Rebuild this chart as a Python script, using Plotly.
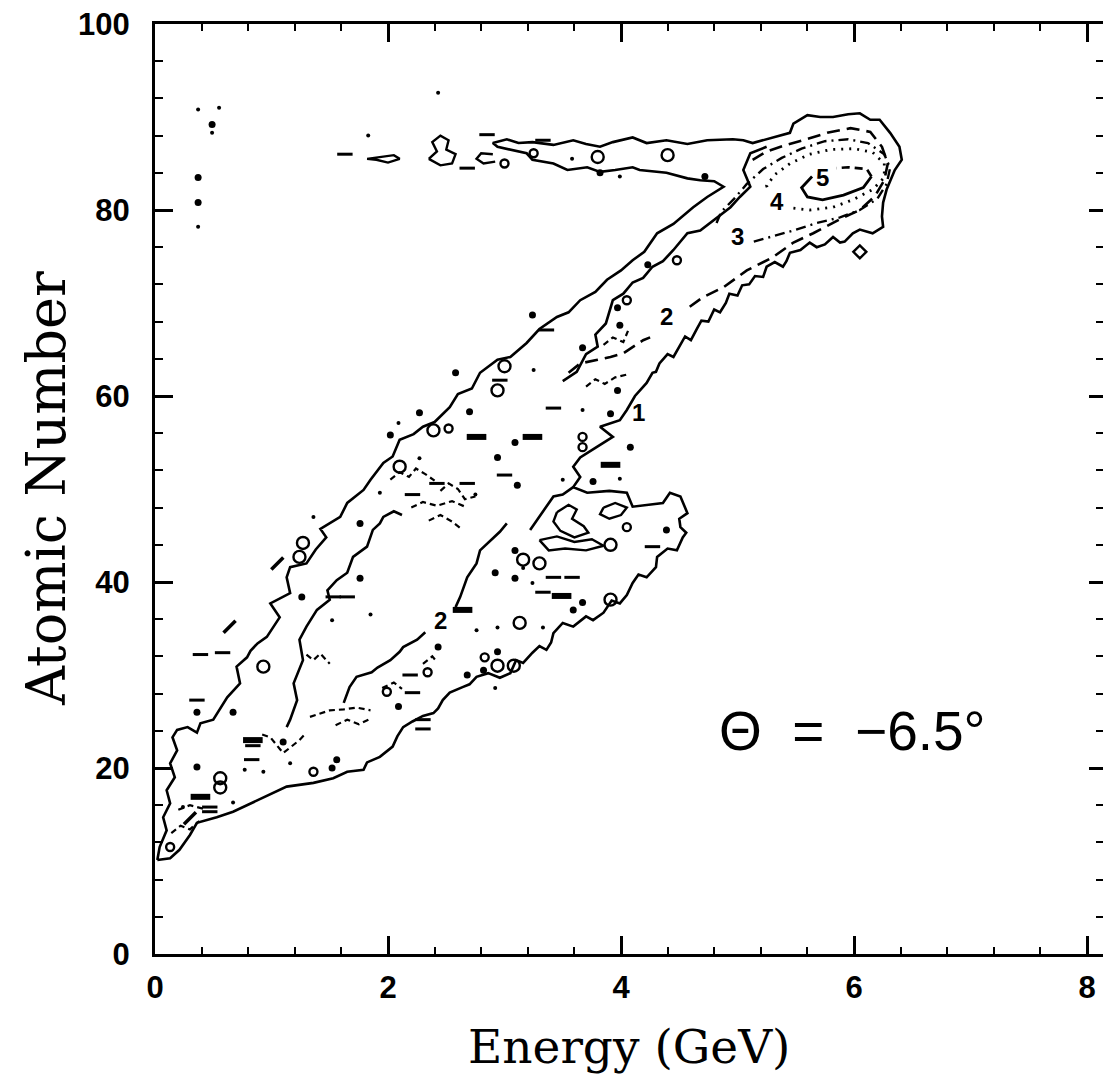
import plotly.graph_objects as go

# ---------------- data (Energy in GeV, Atomic Number Z) ----------------
OUTER = [(0.02,10.1),(0.04,11.5),(0.10,13.3),(0.07,14.7),(0.13,16.2),(0.10,17.6),(0.17,19.0),(0.13,20.5),(0.19,21.9),(0.15,23.3),(0.19,24.1),(0.28,24.4),(0.36,23.8),(0.39,24.8),(0.50,25.2),(0.55,26.2),(0.62,27.6),(0.73,29.1),(0.70,30.9),(0.79,31.9),(0.82,32.6),(0.88,33.4),(0.96,34.1),(1.07,36.2),(0.99,37.7),(1.16,38.8),(1.13,40.5),(1.16,41.6),(1.30,42.0),(1.38,43.5),(1.47,44.8),(1.42,45.7),(1.59,47.0),(1.65,48.5),(1.79,49.9),(1.85,51.0),(1.96,52.8),(2.04,53.5),(2.10,55.3),(2.22,55.9),(2.30,56.7),(2.40,57.2),(2.53,58.8),(2.60,60.2),(2.72,60.8),(2.79,62.5),(2.94,63.9),(3.05,64.2),(3.19,65.7),(3.30,67.2),(3.45,68.5),(3.55,69.0),(3.65,70.3),(3.78,71.2),(3.88,72.5),(4.00,73.5),(4.10,74.6),(4.20,75.5),(4.31,77.5),(4.45,78.5),(4.62,80.3),(4.74,81.4),(4.88,82.5),(4.80,83.1),(4.68,83.2),(4.57,83.4),(4.39,84.0),(4.16,84.3),(4.10,84.6),(3.95,84.3),(3.82,84.1),(3.71,84.6),(3.54,84.3),(3.42,85.0),(3.24,85.4),(3.19,86.1),(3.05,86.5),(2.94,86.8),(2.90,87.2),(3.02,87.6),(3.12,87.2),(3.24,87.3),(3.42,87.0),(3.59,87.5),(3.70,87.1),(3.82,86.8),(3.93,87.3),(4.10,87.8),(4.22,87.2),(4.39,87.5),(4.57,87.1),(4.74,87.5),(4.96,87.6),(5.05,87.5),(5.13,87.2),(5.30,87.8),(5.45,88.3),(5.48,89.3),(5.60,90.2),(5.71,90.0),(5.82,90.0),(5.95,90.3),(6.05,90.4),(6.14,89.7),(6.22,89.7),(6.31,88.3),(6.39,86.8),(6.41,85.4),(6.35,84.3),(6.28,82.2),(6.25,80.8),(6.24,79.3),(6.25,78.2),(6.16,77.5),(6.05,77.9),(5.99,77.5),(5.92,76.6),(5.88,76.5),(5.82,77.1),(5.75,76.3),(5.68,76.0),(5.62,76.5),(5.54,75.7),(5.45,75.4),(5.42,74.5),(5.39,73.9),(5.32,74.4),(5.25,73.9),(5.22,72.8),(5.15,72.9),(5.10,72.0),(5.04,71.9),(5.00,70.8),(4.93,71.0),(4.90,70.0),(4.85,69.0),(4.80,69.3),(4.75,68.0),(4.69,68.1),(4.65,67.2),(4.60,66.0),(4.55,66.4),(4.50,65.3),(4.45,64.2),(4.40,64.5),(4.33,63.5),(4.30,62.6),(4.27,62.5),(4.22,61.4),(4.12,60.0),(4.05,58.5),(3.99,57.4),(3.82,56.7),(3.93,55.6),(3.79,54.5),(3.65,53.4),(3.59,52.4),(3.65,51.3),(3.59,50.2),(3.71,49.6),(3.90,49.8),(4.05,49.6),(4.10,48.1),(4.25,48.3),(4.36,48.5),(4.42,49.6),(4.51,49.2),(4.57,47.4),(4.50,46.8),(4.51,45.9),(4.56,45.3),(4.53,44.8),(4.48,43.4),(4.40,43.6),(4.31,42.7),(4.30,41.6),(4.22,40.5),(4.15,40.8),(4.10,39.9),(4.05,38.6),(3.99,37.7),(3.92,38.0),(3.85,36.7),(3.76,35.9),(3.70,36.3),(3.59,35.2),(3.50,35.6),(3.42,34.5),(3.40,33.5),(3.36,32.7),(3.30,33.1),(3.24,32.4),(3.16,31.3),(3.10,31.6),(3.05,30.2),(2.96,29.7),(2.86,30.2),(2.76,29.8),(2.70,29.0),(2.64,28.7),(2.53,28.1),(2.47,27.3),(2.43,26.4),(2.39,25.9),(2.30,25.6),(2.21,25.0),(2.13,24.4),(2.08,23.4),(2.04,22.3),(1.93,21.2),(1.82,20.6),(1.79,19.8),(1.65,19.6),(1.53,18.9),(1.36,18.4),(1.13,18.0),(1.01,17.3),(0.79,16.0),(0.67,15.3),(0.53,14.7),(0.36,14.1),(0.30,12.8),(0.21,11.2),(0.13,10.3),(0.02,10.1)]

LINE_B1 = [(1.13,24.4),(1.16,25.2),(1.22,27.3),(1.19,29.1),(1.27,31.6),(1.24,33.8),(1.30,35.2),(1.39,37.0),(1.50,38.1),(1.48,39.1),(1.56,40.2),(1.65,41.0),(1.70,42.7),(1.82,43.8),(1.87,45.6),(1.93,46.3),(1.96,47.0),(2.05,47.6),(2.12,47.2)]
LINE_B2 = [(3.50,61.6),(3.62,62.6),(3.70,64.5),(3.80,65.3),(3.78,66.6),(3.87,67.8),(3.93,70.3),(4.02,71.0),(4.10,72.2),(4.19,72.7),(4.27,73.9),(4.36,74.5),(4.45,75.7),(4.57,77.5),(4.68,77.8),(4.79,78.9),(4.94,80.3),(5.02,81.4),(5.11,82.5),(5.05,84.3),(5.11,86.1),(5.25,86.8)]
LINE_C1 = [(1.62,27.0),(1.67,28.7),(1.73,29.8),(1.86,30.3),(1.91,30.8),(2.02,31.6),(2.10,32.5),(2.13,33.0),(2.25,33.8),(2.32,34.6)]
LINE_C2 = [(2.58,37.3),(2.62,38.4),(2.68,40.5),(2.76,42.0),(2.79,43.4),(2.88,44.5),(2.96,45.4),(3.02,46.3)]
BLOB_TOP = [(3.59,50.2),(3.50,49.4),(3.42,49.2),(3.36,48.1),(3.28,46.7),(3.22,45.6)]
BLOB_LOOPS = [
    [(3.45,47.5),(3.55,48.3),(3.62,47.8),(3.58,46.8),(3.68,46.0),(3.72,45.3),(3.60,44.8),(3.48,45.5),(3.42,46.5),(3.45,47.5)],
    [(3.85,48.0),(3.95,48.5),(4.05,48.0),(4.00,47.2),(3.90,46.8),(3.82,47.3),(3.85,48.0)],
    [(3.30,44.5),(3.45,44.9),(3.60,44.3),(3.75,44.6),(3.85,43.9),(3.70,43.4),(3.52,43.6),(3.38,43.4),(3.30,44.5)],
]
STRIP_LOOPS = [
    [(2.35,85.5),(2.42,86.3),(2.38,87.3),(2.45,88.0),(2.52,87.5),(2.50,86.5),(2.58,86.0),(2.55,85.0),(2.45,84.8),(2.35,85.5)],
    [(1.82,85.5),(1.95,85.7),(2.05,85.9),(2.10,85.5),(2.00,85.1),(1.90,85.4),(1.82,85.5)],
    [(2.90,86.0),(2.80,86.1),(2.76,85.5),(2.82,85.0),(2.92,85.2)],
]
LEVEL2_TIP = [(4.59,69.6),(4.70,70.6),(4.88,71.7),(5.08,73.5),(5.30,74.9),(5.48,76.5),(5.65,77.5),(5.91,79.2),(6.05,80.0),(6.18,81.5),(6.26,83.2),(6.29,85.0),(6.24,86.8),(6.14,88.4),(5.97,88.8),(5.77,88.3),(5.56,87.5),(5.42,87.0),(5.25,86.3),(5.13,85.4)]
LEVEL2_LOW = [(3.55,62.5),(3.65,63.5),(3.80,63.9),(3.91,64.2),(4.02,64.6),(4.12,65.4),(4.19,66.0),(4.25,66.3)]
LEVEL3 = [(5.14,76.6),(5.28,77.1),(5.48,77.8),(5.68,78.6),(5.88,79.2),(6.05,80.0),(6.20,81.2),(6.28,82.8),(6.31,84.5),(6.26,86.0),(6.12,87.2),(5.95,87.6),(5.75,87.4),(5.55,86.6),(5.38,85.6),(5.22,84.4),(5.08,82.8),(4.97,81.2),(4.86,79.8),(4.82,78.6)]
LEVEL4 = [(5.48,80.2),(5.62,80.0),(5.82,80.3),(5.99,81.1),(6.16,82.2),(6.26,83.5),(6.26,85.0),(6.16,86.2),(6.00,86.6),(5.80,86.5),(5.62,86.0),(5.45,85.0),(5.32,83.8),(5.25,82.6),(5.27,81.9)]
LEVEL5 = [(5.64,83.6),(5.55,82.4),(5.60,81.4),(5.73,81.1),(5.91,81.6),(6.08,82.4),(6.15,83.6)]
LEVEL5_TOP = [(6.15,83.6),(6.11,84.4),(5.95,84.6),(5.85,84.5)]
FRAGMENTS = [
    [(2.02,51.0),(2.10,51.8),(2.18,51.3),(2.24,52.2),(2.32,51.6),(2.40,50.9)],
    [(2.45,49.8),(2.52,50.6),(2.60,50.0),(2.66,48.9),(2.75,49.2)],
    [(2.20,48.0),(2.30,48.6),(2.42,48.2),(2.55,48.7),(2.68,48.0)],
    [(2.35,46.6),(2.45,47.2),(2.55,46.5),(2.62,45.8)],
    [(3.70,61.0),(3.78,61.8),(3.86,61.3),(3.95,62.0),(4.05,62.3)],
    [(3.85,65.5),(3.93,66.3),(4.02,65.8),(4.06,67.0)],
    [(0.14,13.0),(0.22,13.8),(0.30,13.4),(0.38,14.3)],
    [(0.20,15.5),(0.30,16.0),(0.42,15.6)],
    [(0.92,23.6),(0.99,23.3),(1.10,21.6),(1.24,23.0),(1.30,23.8)],
    [(1.33,25.5),(1.50,26.2),(1.62,26.3),(1.73,26.5),(1.85,26.2)],
    [(1.30,32.2),(1.36,31.6),(1.42,32.3),(1.50,31.2)],
    [(1.55,24.6),(1.65,25.2),(1.75,24.7),(1.85,25.3)],
    [(1.95,28.6),(2.05,29.2),(2.12,28.5)],
    [(2.30,31.2),(2.38,32.0),(2.42,31.4)],
]
DOTS_BIG = [(0.37,83.5),(0.49,89.2),(0.37,80.8),(3.82,84.0),(4.23,74.1),(3.97,69.5),(3.24,68.7),(3.67,65.2),(2.58,62.5),(3.97,60.6),(3.91,58.1),(2.27,58.2),(2.02,55.8),(3.09,55.0),(4.08,54.5),(3.76,50.8),(2.94,53.4),(3.11,50.4),(2.70,58.3),(1.76,46.3),(4.39,45.6),(3.09,43.4),(2.92,41.0),(3.09,40.4),(3.67,37.8),(3.59,37.0),(2.82,30.5),(2.68,30.0),(2.43,33.0),(2.94,32.5),(1.26,38.4),(1.76,40.4),(0.67,26.0),(0.36,26.0),(2.09,26.6),(1.56,20.9),(1.52,20.0),(0.36,20.1),(3.99,67.6),(4.72,83.6),(1.10,22.8)]
DOTS_SMALL = [(0.37,78.2),(0.37,90.8),(0.55,91.0),(0.49,88.3),(2.43,92.6),(1.83,88.0),(3.58,85.5),(3.99,83.6),(3.25,62.8),(2.09,57.1),(3.67,58.5),(3.99,51.1),(3.50,51.0),(2.75,49.4),(1.36,47.0),(1.93,49.6),(2.27,53.3),(3.16,41.5),(2.94,35.1),(3.33,35.1),(2.92,28.6),(2.76,34.8),(1.52,35.9),(1.85,36.5),(0.77,19.8),(0.93,19.6),(0.24,15.8),(0.67,16.3),(1.16,20.5),(3.24,39.9)]
ELLIPSES = [(2.76,55.6),(3.91,52.6),(3.49,38.5),(3.24,55.6),(0.39,16.9),(0.84,23.0),(2.64,37.0)]
DASHES = [(3.42,58.7),(3.00,51.5),(2.68,50.6),(2.42,50.6),(2.21,49.4),(4.27,43.8),(3.42,40.5),(3.58,40.5),(3.33,38.9),(2.19,30.0),(2.21,28.1),(1.53,38.4),(1.65,38.4),(0.39,32.2),(0.58,32.4),(0.36,27.3),(0.83,20.9),(0.47,15.8),(0.47,15.3),(1.63,86.0),(2.68,84.5),(2.85,88.1),(3.33,87.5),(2.96,61.7),(3.36,67.1),(2.30,25.2),(2.30,24.2),(0.84,22.4)]
ANGLED = [(0.64,35.2),(1.05,42.0),(0.30,14.6)]
LOOPS_SMALL = [(4.48,74.6),(4.05,70.3),(3.67,55.6),(3.67,54.5),(4.05,45.9),(2.83,31.9),(2.34,30.3),(1.99,28.2),(2.52,56.5),(3.00,85.0),(0.13,11.5),(1.36,19.6),(3.25,86.1)]
LOOPS_LARGE = [(2.94,60.6),(3.00,63.2),(3.91,44.0),(3.16,42.4),(3.30,42.0),(3.91,38.1),(3.13,35.6),(0.93,30.9),(1.27,44.2),(1.24,42.7),(2.10,52.4),(2.39,56.3),(0.56,18.9),(0.56,17.9),(3.80,85.7),(4.40,85.9),(2.94,31.0),(3.08,31.0)]
DIAMONDS = [(6.05,75.5)]
CONTOUR_LABELS = [("1",4.15,58.2),("2",4.39,68.5),("2",2.45,35.9),("3",5.00,77.2),("4",5.34,80.9),("5",5.73,83.5)]
X_TICKS = [0, 2, 4, 6, 8]
Y_TICKS = [0, 20, 40, 60, 80, 100]
ANGLE_TEXT = "\u0398\u00a0\u00a0=\u00a0\u00a0\u22126.5\u00b0"

# ---------------- figure ----------------
fig = go.Figure()
BLACK = "black"

def add_path(pts, dash="solid", width=2.6):
    fig.add_trace(go.Scatter(x=[p[0] for p in pts], y=[p[1] for p in pts], mode="lines",
                             line=dict(color=BLACK, width=width, dash=dash),
                             hoverinfo="skip", showlegend=False))

add_path(OUTER)
add_path(LINE_B1)
add_path(LINE_B2)
add_path(LINE_C1)
add_path(LINE_C2)
add_path(BLOB_TOP)
for lp in BLOB_LOOPS + STRIP_LOOPS:
    add_path(lp, width=2.4)
for fr in FRAGMENTS:
    add_path(fr, dash="6px,4px", width=2.2)
add_path(LEVEL2_TIP, dash="13px,7px", width=2.6)
add_path(LEVEL2_LOW, dash="13px,7px", width=2.6)
add_path(LEVEL3, dash="10px,5px,2px,5px", width=2.4)
add_path(LEVEL4, dash="2px,6px", width=2.8)
add_path(LEVEL5, width=2.8)
add_path(LEVEL5_TOP, dash="8px,5px", width=2.6)

def add_markers(pts, symbol, size, lw=0):
    fig.add_trace(go.Scatter(x=[p[0] for p in pts], y=[p[1] for p in pts], mode="markers",
                             marker=dict(symbol=symbol, size=size, color=BLACK,
                                         line=dict(color=BLACK, width=lw)),
                             hoverinfo="skip", showlegend=False))

add_markers(DOTS_BIG, "circle", 7)
add_markers(DOTS_SMALL, "circle", 4)
add_markers(ELLIPSES, "line-ew", 14, lw=6)
add_markers(DASHES, "line-ew", 11, lw=3)
add_markers(ANGLED, "line-ne", 12, lw=3.5)
add_markers(LOOPS_SMALL, "circle-open", 8, lw=2.4)
add_markers(LOOPS_LARGE, "circle-open", 12, lw=2.4)
add_markers(DIAMONDS, "diamond-open", 10, lw=2.4)

# dummy trace for top/right mirror axes
fig.add_trace(go.Scatter(x=[None], y=[None], xaxis="x2", yaxis="y2", showlegend=False, hoverinfo="skip"))

for txt, x, y in CONTOUR_LABELS:
    fig.add_annotation(x=x, y=y, text="<b>%s</b>" % txt, showarrow=False,
                       font=dict(family="Liberation Sans", size=24, color=BLACK))

fig.add_annotation(x=5.99, y=24.0, text=ANGLE_TEXT, showarrow=False,
                   font=dict(family="Liberation Sans", size=55, color=BLACK))

fig.add_annotation(xref="paper", yref="paper", x=(629 - 155) / 948, y=(954 - 1046) / 930,
                   text="Energy (GeV)", showarrow=False, xanchor="center", yanchor="middle",
                   font=dict(family="DejaVu Serif", size=47, color=BLACK))
fig.add_annotation(xref="paper", yref="paper", x=(46 - 155) / 948, y=(954 - 489) / 930,
                   text="Atomic Number", showarrow=False, textangle=-90, xanchor="center", yanchor="middle",
                   font=dict(family="DejaVu Serif", size=54, color=BLACK))

XR = [0, 948 / 116.5]
axis_common = dict(showline=True, linewidth=3, linecolor=BLACK, ticks="inside", ticklen=18,
                   tickwidth=2.5, tickcolor=BLACK, showgrid=False, zeroline=False)
TICKFONT = dict(family="Liberation Sans", size=31, color=BLACK, weight="bold")
fig.update_layout(
    width=1103, height=1077,
    margin=dict(l=155, r=0, t=24, b=123),
    paper_bgcolor="white", plot_bgcolor="white",
    xaxis=dict(range=XR, tickvals=X_TICKS, ticktext=[str(v) for v in X_TICKS],
               minor=dict(dtick=0.4, tick0=0, ticklen=7, tickwidth=2, ticks="inside", tickcolor=BLACK),
               tickfont=TICKFONT, ticklabelstandoff=4,
               **axis_common),
    yaxis=dict(range=[0, 100], tickvals=Y_TICKS, ticktext=[str(v) for v in Y_TICKS],
               minor=dict(dtick=4, tick0=0, ticklen=8, tickwidth=2, ticks="inside", tickcolor=BLACK),
               tickfont=TICKFONT, ticklabelstandoff=16,
               **axis_common),
    xaxis2=dict(range=XR, overlaying="x", side="top", anchor="y", tickvals=X_TICKS, showticklabels=False,
                minor=dict(dtick=0.4, tick0=0, ticklen=7, tickwidth=2, ticks="inside", tickcolor=BLACK),
                **axis_common),
    yaxis2=dict(range=[0, 100], overlaying="y", side="right", anchor="x", tickvals=Y_TICKS, showticklabels=False,
                minor=dict(dtick=4, tick0=0, ticklen=7, tickwidth=2, ticks="inside", tickcolor=BLACK),
                showline=False, ticks="inside", ticklen=14, tickwidth=2.5, tickcolor=BLACK,
                showgrid=False, zeroline=False),
)

fig.write_html("out.html")
